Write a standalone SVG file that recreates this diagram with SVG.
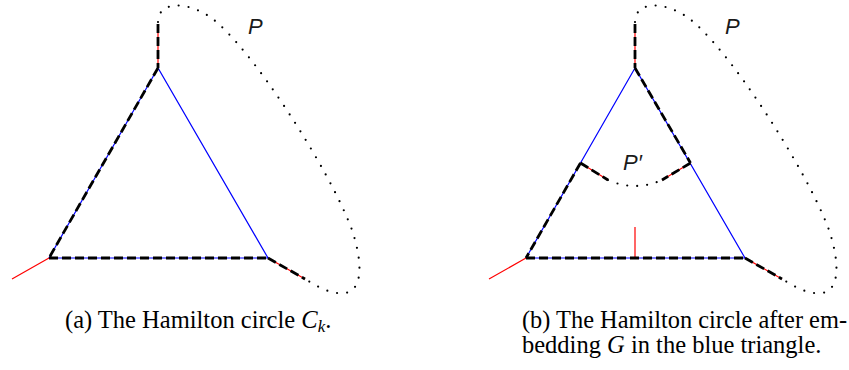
<svg xmlns="http://www.w3.org/2000/svg" width="849" height="370" viewBox="0 0 849 370">
<style>
.blue{stroke:#0000ff;stroke-width:1.2;fill:none}
.red{stroke:#ff0000;stroke-width:1.2;fill:none}
.dash{stroke:#000;stroke-width:2.8;stroke-dasharray:9 4;fill:none}
.dot{stroke:#000;stroke-width:2.2;stroke-linecap:round;stroke-dasharray:0 10;fill:none}
.lbl{font-family:"Liberation Sans","DejaVu Sans",sans-serif;font-style:italic;font-size:22px;fill:#1a1a1a}
.cap{font-family:"Liberation Serif","DejaVu Serif",serif;font-size:24.5px;fill:#000}
</style>
<rect width="849" height="370" fill="#fff"/>
<g id="connectors">
  <g id="fig-a-edges">
    <path class="blue" d="M158,68 L49,258 L268,258 Z"/>
    <path class="red" d="M158,24 L158,68 M49,258 L12,279 M268,258 L305,279"/>
    <path class="dash" d="M158,24 L158,68 M158,68 L49,258 M49,258 L268,258 M268,258 L305,279"/>
    <path class="dot" d="M158,22 C158,2 185,0 210,17 C250,45 330,170 352,230 C362,260 364,290 345,293 C330,295 315,285 305,279"/>
  </g>
  <g id="fig-b-edges">
    <path class="blue" d="M635,68 L526,258 L745,258 Z"/>
    <path class="red" d="M635,24 L635,68 M526,258 L489,279 M745,258 L782,279 M690.5,163 L662,180 M580.5,163 L608,180 M635,258 L635,227"/>
    <path class="dash" d="M635,24 L635,68 M635,68 L690.5,163 M690.5,163 L662,180 M580.5,163 L608,180 M580.5,163 L526,258 M526,258 L745,258 M745,258 L782,279"/>
    <path class="dot" d="M635,22 C635,2 662,0 687,17 C727,45 807,170 829,230 C839,260 841,290 822,293 C807,295 792,285 782,279"/>
    <path class="dot" d="M608,180 Q635,192 662,180"/>
  </g>
</g>
<g id="label-P-a"><text class="lbl" x="248" y="34">P</text></g>
<g id="label-P-b"><text class="lbl" x="725" y="34">P</text></g>
<g id="label-Pprime"><text class="lbl" x="623" y="170">P′</text></g>
<g id="caption-a">
  <text class="cap" x="65" y="328">(a) The Hamilton circle <tspan font-style="italic">C</tspan><tspan font-style="italic" font-size="17" dy="4">k</tspan><tspan dy="-4">.</tspan></text>
</g>
<g id="caption-b">
  <text class="cap" x="522" y="328" textLength="325" lengthAdjust="spacingAndGlyphs">(b) The Hamilton circle after em-</text>
  <text class="cap" x="522" y="353">bedding <tspan font-style="italic">G</tspan> in the blue triangle.</text>
</g>
</svg>
